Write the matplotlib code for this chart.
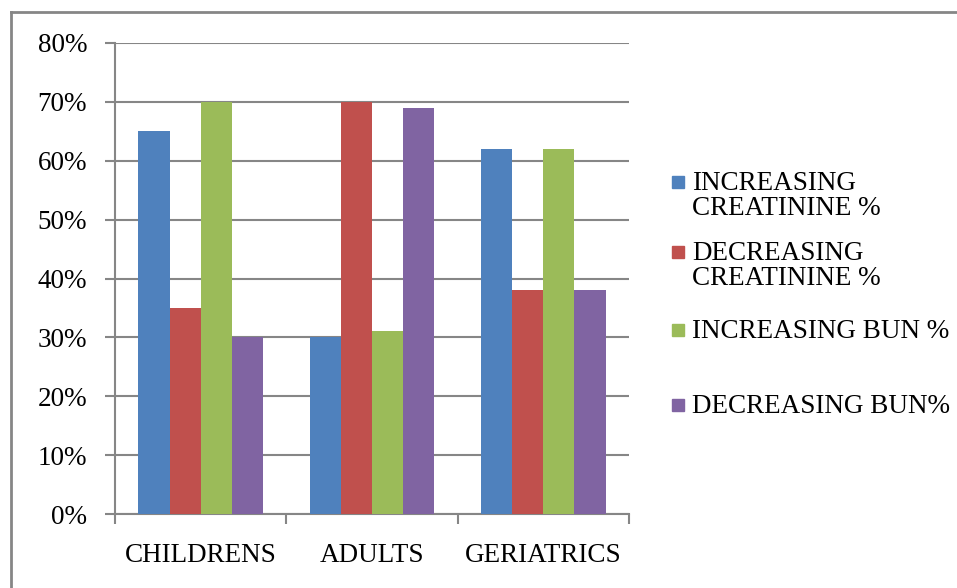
import numpy as np
import matplotlib
matplotlib.use("Agg")
import matplotlib.pyplot as plt
from matplotlib.patches import Rectangle
from matplotlib.lines import Line2D

GROUPS = ["CHILDRENS", "ADULTS", "GERIATRICS"]
SERIES = ["INCREASING\nCREATININE %", "DECREASING\nCREATININE %",
          "INCREASING BUN %", "DECREASING BUN%"]
INC_CREAT = [65, 30, 62]
DEC_CREAT = [35, 70, 38]
INC_BUN = [70, 31, 62]
DEC_BUN = [30, 69, 38]
YTICKS = [0, 10, 20, 30, 40, 50, 60, 70, 80]

COLORS = ["#4F81BD", "#C0504D", "#9BBB59", "#8064A2"]
GRID = "#868686"
FS = 19.5
plt.rcParams["font.family"] = ["Liberation Serif", "DejaVu Serif"]

W, H = 957, 588
fig = plt.figure(figsize=(W / 100, H / 100), dpi=100)
ax = fig.add_axes([115 / W, 1 - 514 / H, (629 - 115) / W, (514 - 43) / H])

x = np.arange(len(GROUPS))
bw = 1 / 5.5
data = [INC_CREAT, DEC_CREAT, INC_BUN, DEC_BUN]
for k, vals in enumerate(data):
    ax.bar(x + (k - 1.5) * bw, vals, bw, color=COLORS[k], zorder=3)

ax.set_xlim(-0.5, len(GROUPS) - 0.5)
ax.set_ylim(0, 80)
ax.set_yticks(YTICKS)
ax.set_yticklabels([f"{v}%" for v in YTICKS], fontsize=FS)
ax.yaxis.grid(True, color=GRID, lw=1.5, zorder=0)
ax.tick_params(axis="y", length=7, width=1.5, color=GRID, pad=13)

ax.set_xticks(x)
ax.set_xticklabels(GROUPS, fontsize=FS)
ax.set_xticks(np.arange(len(GROUPS) + 1) - 0.5, minor=True)
ax.tick_params(axis="x", which="major", length=0, pad=21)
ax.tick_params(axis="x", which="minor", length=7, width=1.5, color=GRID)

for s in ["top", "right"]:
    ax.spines[s].set_visible(False)
for s in ["left", "bottom"]:
    ax.spines[s].set_color(GRID)
    ax.spines[s].set_linewidth(1.5)

# legend drawn by hand, Excel style (swatch on first line)
leg_y = [182, 252, 330, 405]
for k, lab in enumerate(SERIES):
    yc = leg_y[k]
    fig.add_artist(Rectangle((672 / W, 1 - (yc + 6) / H), 12 / W, 12 / H,
                             transform=fig.transFigure, color=COLORS[k]))
    fig.text(692 / W, 1 - (yc - 11) / H, lab, fontsize=FS, va="top", ha="left",
             linespacing=0.98)

# outer frame, only top and left visible in the crop
fig.add_artist(Line2D([11 / W, 1], [1 - 12 / H, 1 - 12 / H], color=GRID, lw=2,
                      transform=fig.transFigure))
fig.add_artist(Line2D([11 / W, 11 / W], [0, 1 - 12 / H], color=GRID, lw=2,
                      transform=fig.transFigure))

fig.savefig("out.png", dpi=100, facecolor="white")
